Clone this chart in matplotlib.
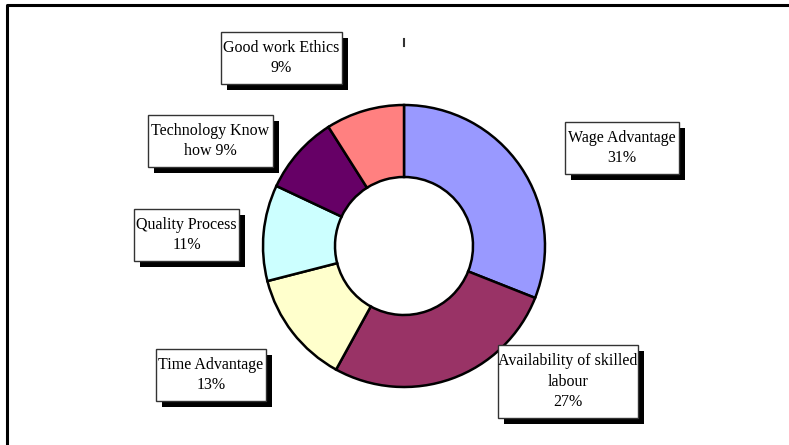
import matplotlib.pyplot as plt
from matplotlib.patches import Rectangle

# Data
names = ["Wage Advantage", "Availability of skilled\nlabour", "Time Advantage",
         "Quality Process", "Technology Know", "Good work Ethics"]
seps = ["\n", "\n", "\n", "\n", "\nhow ", "\n"]
values = [31, 27, 13, 11, 9, 9]
colors = ["#9999FF", "#993366", "#FFFFCC", "#CCFFFF", "#660066", "#FF8080"]

# label boxes in pixel coords (left, top, right, bottom)
boxes = [(565, 122, 679, 174), (498, 345, 638, 418), (156, 349, 266, 401),
         (134, 209, 239, 261), (148, 115, 273, 167), (221, 32, 342, 84)]

W, H = 789, 445
fig = plt.figure(figsize=(W / 100, H / 100), dpi=100)
ax = fig.add_axes([0, 0, 1, 1])
ax.set_xlim(0, W)
ax.set_ylim(0, H)
ax.set_aspect("equal")
ax.axis("off")

# frame (top and left edges only visible)
ax.plot([7, 7, W], [0, H - 5, H - 5], color="black", lw=2.2, solid_capstyle="butt")

# donut
ax.pie(values, colors=colors, startangle=90, counterclock=False,
       center=(404, H - 246), radius=141,
       wedgeprops=dict(width=72, edgecolor="black", linewidth=1.8))
ax.set_xlim(0, W)
ax.set_ylim(0, H)

# small tick mark
ax.plot([404, 404], [H - 39, H - 46], color="#333333", lw=1.5)

# labels with shadows
for name, sep, v, (l, t, r, b) in zip(names, seps, values, boxes):
    ax.add_patch(Rectangle((l + 6, H - b - 6), r - l, b - t, facecolor="black",
                           edgecolor="none", zorder=3))
    ax.add_patch(Rectangle((l, H - b), r - l, b - t, facecolor="white",
                           edgecolor="#333333", lw=1.0, zorder=4))
    ax.text((l + r) / 2, H - (t + b) / 2, f"{name}{sep}{v}%", ha="center",
            va="center", fontsize=11.5, family="Liberation Serif",
            linespacing=1.4, zorder=5)

fig.savefig("out.png", dpi=100)
